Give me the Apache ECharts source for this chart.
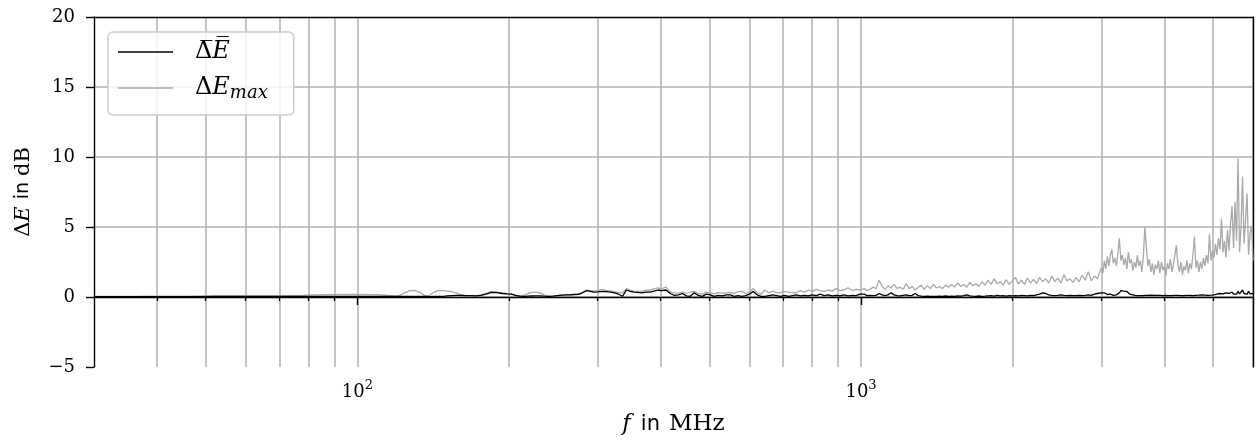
<!DOCTYPE html>
<html>
<head>
<meta charset="utf-8">
<script src="https://cdn.jsdelivr.net/npm/echarts@6/dist/echarts.min.js"></script>
<style>
html,body{margin:0;padding:0;background:#fff}
#chart{width:1256px;height:442px}
</style>
</head>
<body>
<div id="chart"></div>
<script>
// Frequencies in MHz
const freqs = [
  30,32,34,36,38,40,43,46,49,52,55,58,
  62,66,70,74,78,82,86,90,
  95,100,105,110,115,
  118,121,124,127,130,133,136,139,
  142,145,148,151,154,157,160,
  164,168,172,176,180,184,188,
  194,198,202,206,210,214,218,222,226,230,
  235,240,245,250,255,260,265,270,275,280,
  285,290,295,300,306,312,318,324,330,336,
  342,348,354,360,367,374,381,388,395,402,
  410,418,426,434,442,450,458,466,475,484,
  493,502,511,520,530,540,550,560,570,580,
  590,600,611,622,633,644,656,668,680,692,
  705,718,731,744,758,772,786,800,815,830,
  845,860,876,892,908,925,942,960,978,996,
  1014,1028,1042,1056,1071,1086,1101,1116,1131,1147,
  1163,1179,1195,1212,1229,1246,1263,1281,1299,1317,
  1335,1354,1373,1392,1411,1431,1451,1471,1492,1513,
  1534,1555,1577,1599,1621,1644,1667,1690,1714,1738,
  1762,1787,1812,1837,1863,1889,1915,1942,1969,1997,
  2025,2053,2082,2111,2140,2170,2200,2231,2262,2294,
  2326,2358,2391,2425,2459,2493,2528,2563,2599,2635,
  2672,2710,2748,2786,2825,2865,2905,2945,
  3000,3021,3041,3062,3083,3104,3126,3147,3169,3191,
  3213,3235,3257,3280,3302,3325,3348,3371,3394,3418,
  3441,3465,3489,3513,3537,3561,3586,3610,3635,3660,
  3685,3711,3736,3762,3788,3814,3840,3867,3893,3920,
  3947,3974,4002,4029,4057,4085,4113,4141,4170,4199,
  4227,4257,4286,4315,4345,4375,4405,4436,4466,4497,
  4528,4559,4591,4622,4654,4686,4719,4751,4784,4817,
  4850,4884,4917,4951,4985,5020,5054,5089,5124,5160,
  5195,5231,5267,5303,5340,5377,5414,5451,5489,5527,
  5565,5603,5642,5681,5720,5759,5799,5839,5879,5920,
  5960,6000
];

// Mean deviation (dB)
const meanDE = [
  0.03,0.03,0.03,0.03,0.03,0.03,0.03,0.03,0.03,0.04,0.04,0.04,
  0.04,0.04,0.04,0.05,0.05,0.04,0.04,0.04,
  0.04,0.04,0.04,0.04,0.04,
  0.04,0.04,0.05,0.05,0.05,0.05,0.05,0.03,
  0.04,0.05,0.05,0.08,0.1,0.12,0.12,
  0.1,0.1,0.08,0.12,0.2,0.32,0.33,
  0.25,0.22,0.2,0.12,0.06,0.05,0.06,0.07,0.08,0.08,
  0.06,0.05,0.06,0.1,0.13,0.15,0.16,0.18,0.19,0.3,
  0.45,0.4,0.35,0.37,0.4,0.38,0.35,0.3,0.2,0.05,
  0.5,0.4,0.35,0.33,0.3,0.35,0.35,0.42,0.5,0.45,
  0.5,0.25,0.12,0.15,0.25,0.08,0.05,0.3,0.12,0.05,
  0.2,0.15,0.05,0.12,0.08,0.15,0.15,0.05,0.1,0.05,
  0.1,0.2,0.4,0.15,0.05,0.05,0.1,0.15,0.1,0.05,
  0.12,0.05,0.1,0.15,0.08,0.12,0.08,0.15,0.1,0.2,
  0.1,0.15,0.08,0.12,0.08,0.15,0.08,0.12,0.1,0.2,
  0.2,0.1,0.12,0.1,0.12,0.25,0.15,0.1,0.15,0.3,
  0.15,0.1,0.08,0.12,0.15,0.1,0.12,0.25,0.1,0.06,
  0.05,0.06,0.05,0.04,0.05,0.06,0.05,0.07,0.05,0.06,
  0.05,0.07,0.06,0.1,0.15,0.08,0.06,0.05,0.07,0.05,
  0.06,0.08,0.1,0.07,0.12,0.08,0.1,0.06,0.1,0.08,
  0.1,0.08,0.12,0.1,0.08,0.12,0.1,0.15,0.2,0.3,
  0.25,0.15,0.12,0.1,0.12,0.15,0.12,0.1,0.12,0.1,
  0.1,0.12,0.1,0.12,0.15,0.12,0.2,0.25,
  0.3,0.35,0.3,0.2,0.18,0.15,0.2,0.15,0.12,0.15,
  0.15,0.2,0.3,0.45,0.5,0.42,0.35,0.4,0.3,0.2,
  0.18,0.15,0.12,0.1,0.12,0.1,0.12,0.1,0.14,0.12,
  0.1,0.12,0.1,0.13,0.1,0.12,0.1,0.12,0.14,0.11,
  0.12,0.1,0.13,0.11,0.12,0.1,0.12,0.1,0.11,0.12,
  0.1,0.12,0.11,0.1,0.12,0.1,0.11,0.12,0.1,0.11,
  0.12,0.1,0.11,0.12,0.1,0.13,0.12,0.15,0.12,0.14,
  0.15,0.12,0.18,0.13,0.2,0.15,0.14,0.2,0.16,0.25,
  0.18,0.22,0.15,0.3,0.18,0.25,0.2,0.35,0.2,0.28,
  0.2,0.4,0.22,0.3,0.5,0.25,0.35,0.2,0.4,0.22,
  0.3,0.25
];

// Maximum deviation (dB)
const maxDE = [
  0.05,0.05,0.05,0.05,0.06,0.06,0.06,0.06,0.07,0.07,0.07,0.07,
  0.08,0.08,0.08,0.1,0.12,0.15,0.16,0.17,
  0.18,0.18,0.17,0.16,0.12,
  0.08,0.1,0.3,0.45,0.48,0.35,0.1,0.1,
  0.35,0.45,0.45,0.42,0.38,0.3,0.18,
  0.1,0.1,0.1,0.15,0.25,0.38,0.35,
  0.3,0.25,0.22,0.14,0.08,0.12,0.25,0.33,0.35,0.3,
  0.15,0.06,0.07,0.11,0.14,0.16,0.17,0.19,0.2,0.35,
  0.5,0.45,0.42,0.45,0.55,0.48,0.45,0.38,0.32,0.3,
  0.6,0.5,0.42,0.4,0.42,0.48,0.5,0.58,0.65,0.6,
  0.7,0.35,0.3,0.28,0.35,0.25,0.35,0.4,0.25,0.2,
  0.35,0.3,0.22,0.32,0.28,0.3,0.32,0.25,0.38,0.4,
  0.25,0.35,0.6,0.3,0.2,0.5,0.3,0.42,0.3,0.32,
  0.38,0.35,0.3,0.32,0.45,0.35,0.5,0.4,0.55,0.45,
  0.38,0.5,0.42,0.6,0.45,0.5,0.65,0.48,0.55,0.5,
  0.6,0.45,0.55,0.7,0.6,1.2,0.75,0.55,0.8,0.65,
  0.9,0.6,0.7,0.55,0.95,0.6,0.75,0.5,0.7,0.85,
  0.55,0.8,0.6,0.9,0.65,0.75,0.6,0.85,0.7,0.9,
  0.7,1.0,0.75,0.9,0.7,1.05,0.8,0.95,0.75,1.1,
  0.85,1.2,0.9,1.3,0.95,1.1,0.85,1.25,0.9,1.15,
  1.4,0.95,1.2,0.9,1.35,1.0,1.25,0.95,1.4,1.1,
  1.3,1.0,1.5,1.1,1.35,1.0,1.6,1.15,1.3,1.05,
  1.4,1.1,1.55,1.2,1.8,1.15,1.5,1.3,
  2.1,1.7,2.6,2.0,2.9,2.2,3.0,3.4,2.4,2.8,
  2.2,3.1,4.2,2.6,3.0,2.3,2.8,2.0,3.2,2.4,
  2.7,1.9,2.5,2.1,3.0,2.2,2.6,1.8,2.9,5.0,
  3.6,2.2,2.7,1.8,2.4,1.6,2.3,2.0,2.6,1.7,
  2.5,1.9,2.2,1.5,2.4,2.0,2.7,1.8,2.3,3.0,
  3.7,2.3,1.8,2.5,1.6,2.2,1.9,2.6,1.7,2.4,
  2.0,3.0,4.3,2.1,2.6,1.8,2.5,2.0,2.8,2.2,
  3.0,2.4,4.5,2.6,3.3,2.8,3.8,3.0,4.2,3.4,
  5.6,3.2,4.0,2.8,4.8,3.3,5.2,6.5,3.5,6.8,
  4.0,9.9,3.2,5.0,8.6,3.8,5.5,7.4,3.0,4.6,
  5.1,2.6
];

// Axis ticks
const yTicks = [-5, 0, 5, 10, 15, 20];
const majorFreqs = [100, 1000];
const minorFreqs = [40,50,60,70,80,90,200,300,400,500,600,700,800,900,2000,3000,4000,5000,6000];

const serif = "'DejaVu Serif', 'Liberation Serif', serif";
const sans = "'DejaVu Sans', 'Liberation Sans', sans-serif";
const gridGray = '#b0b0b0';

const chart = echarts.init(document.getElementById('chart'), null, { renderer: 'canvas' });

const frameAxisLine = { show: true, lineStyle: { color: '#000', width: 1.4 } };

chart.setOption({
  animation: false,
  backgroundColor: '#fff',
  grid: { left: 94, right: 3, top: 17, bottom: 75, containLabel: false },
  legend: {
    orient: 'vertical',
    left: 108,
    top: 32,
    padding: [8, 26, 13, 10],
    icon: 'rect',
    itemWidth: 55,
    itemHeight: 1.4,
    itemGap: 12,
    backgroundColor: 'rgba(255,255,255,0.85)',
    borderColor: '#cccccc',
    borderWidth: 1.5,
    borderRadius: 5,
    selectedMode: false,
    data: ['mean', 'max'],
    formatter: function (name) {
      return name === 'mean'
        ? '{r|\u0394\u0305}{i|E\u0305}'
        : '{r|\u0394}{i|E}{sub|max}';
    },
    textStyle: {
      color: '#000',
      padding: [0, 0, 0, 17],
      rich: {
        r: { fontFamily: serif, fontSize: 24, lineHeight: 28, verticalAlign: 'middle', color: '#000' },
        i: { fontFamily: serif, fontSize: 24, fontStyle: 'italic', lineHeight: 28, verticalAlign: 'middle', color: '#000' },
        sub: { fontFamily: serif, fontSize: 18, fontStyle: 'italic', lineHeight: 14, verticalAlign: 'bottom', color: '#000' }
      }
    }
  },
  xAxis: [
    {
      type: 'log',
      logBase: 10,
      min: 30,
      max: 6000,
      position: 'bottom',
      axisLine: frameAxisLine,
      axisTick: { show: true, inside: false, length: 8, customValues: majorFreqs, lineStyle: { color: '#000', width: 1.4 } },
      axisLabel: {
        customValues: majorFreqs,
        margin: 12,
        formatter: function (v) { return '{b|10}{s|' + Math.round(Math.log10(v)) + '}'; },
        rich: {
          b: { fontFamily: serif, fontSize: 18, lineHeight: 22, verticalAlign: 'bottom', color: '#000' },
          s: { fontFamily: serif, fontSize: 13, lineHeight: 13, verticalAlign: 'top', color: '#000' }
        }
      },
      splitLine: { show: true, lineStyle: { color: gridGray, width: 1.5 } },
      name: '{i|f}{s|in}{r|MHz}',
      nameLocation: 'middle',
      nameGap: 46,
      nameTextStyle: {
        rich: {
          i: { fontFamily: serif, fontSize: 23, fontStyle: 'italic', color: '#000' },
          s: { fontFamily: sans, fontSize: 21, color: '#000', padding: [0, 9, 0, 10] },
          r: { fontFamily: serif, fontSize: 23, color: '#000' }
        }
      }
    },
    {
      type: 'log',
      logBase: 10,
      min: 30,
      max: 6000,
      position: 'bottom',
      axisLine: { show: false },
      axisTick: { show: true, inside: false, length: 4, customValues: minorFreqs, lineStyle: { color: '#000', width: 1.2 } },
      axisLabel: { show: false },
      splitLine: { show: true, lineStyle: { color: gridGray, width: 1.5 } }
    },
    {
      type: 'log',
      logBase: 10,
      min: 30,
      max: 6000,
      position: 'top',
      axisLine: frameAxisLine,
      axisTick: { show: false },
      axisLabel: { show: false },
      splitLine: { show: false }
    }
  ],
  yAxis: [
    {
      type: 'value',
      min: yTicks[0],
      max: yTicks[yTicks.length - 1],
      interval: 5,
      position: 'left',
      axisLine: frameAxisLine,
      axisTick: { show: true, inside: false, length: 8, lineStyle: { color: '#000', width: 1.4 } },
      axisLabel: {
        fontFamily: serif,
        fontSize: 18,
        color: '#000',
        margin: 19,
        formatter: function (v) { return v < 0 ? '\u2212' + Math.abs(v) : String(v); }
      },
      splitLine: { show: true, showMinLine: false, showMaxLine: false, lineStyle: { color: gridGray, width: 1.5 } },
      name: '{r|\u0394}{i|E}{s|in}{r|dB}',
      nameLocation: 'middle',
      nameGap: 60,
      nameRotate: 90,
      nameTextStyle: {
        rich: {
          i: { fontFamily: serif, fontSize: 21, fontStyle: 'italic', color: '#000' },
          s: { fontFamily: sans, fontSize: 19, color: '#000', padding: [0, 6, 0, 7] },
          r: { fontFamily: serif, fontSize: 21, color: '#000' }
        }
      }
    },
    {
      type: 'value',
      min: yTicks[0],
      max: yTicks[yTicks.length - 1],
      interval: 5,
      position: 'right',
      axisLine: frameAxisLine,
      axisTick: { show: false },
      axisLabel: { show: false },
      splitLine: { show: false }
    }
  ],
  series: [
    {
      name: 'mean',
      type: 'line',
      xAxisIndex: 0,
      yAxisIndex: 0,
      symbol: 'none',
      z: 4,
      lineStyle: { color: '#000', width: 1.3 },
      itemStyle: { color: '#000' },
      data: freqs.map((f, i) => [f, meanDE[i]])
    },
    {
      name: 'max',
      type: 'line',
      xAxisIndex: 0,
      yAxisIndex: 0,
      symbol: 'none',
      z: 3,
      lineStyle: { color: '#a9a9a9', width: 1.3 },
      itemStyle: { color: '#a9a9a9' },
      data: freqs.map((f, i) => [f, maxDE[i]])
    }
  ]
});
</script>
</body>
</html>
